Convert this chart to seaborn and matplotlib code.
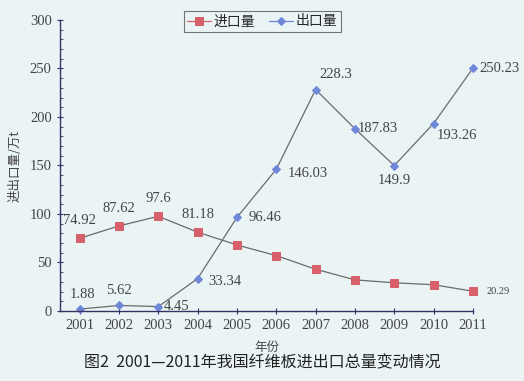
import pandas as pd
import matplotlib.pyplot as plt
import seaborn as sns
from matplotlib.ticker import MultipleLocator

# Data
years = [2001, 2002, 2003, 2004, 2005, 2006, 2007, 2008, 2009, 2010, 2011]
imports = [74.92, 87.62, 97.6, 81.18, 68, 57, 43, 32, 29, 27, 20.29]
exports = [1.88, 5.62, 4.45, 33.34, 96.46, 146.03, 228.3, 187.83, 149.9, 193.26, 250.23]
import_labels = ['74.92', '87.62', '97.6', '81.18', '', '', '', '', '', '', '20.29']
export_labels = ['1.88', '5.62', '4.45', '33.34', '96.46', '146.03', '228.3',
                 '187.83', '149.9', '193.26', '250.23']

sns.set_style('ticks')
plt.rcParams['font.family'] = ['Liberation Serif', 'Noto Sans CJK SC']

bg = '#eaf4f5'
red = '#d8606a'
blue = '#6e87d8'
line_col = '#6b6b6b'
txt = '#444444'

fig = plt.figure(figsize=(5.24, 3.81), dpi=100, facecolor=bg)
ax = fig.add_axes([0.1145, 0.184, 0.788, 0.7635])
ax.set_facecolor(bg)

df = pd.DataFrame({'年份': years, '进口量': imports, '出口量': exports})

sns.lineplot(data=df, x='年份', y='进口量', ax=ax, color=line_col, lw=0.9,
             marker='s', markersize=6, markerfacecolor=red, markeredgecolor=red,
             label='进口量', clip_on=False)
sns.lineplot(data=df, x='年份', y='出口量', ax=ax, color=line_col, lw=0.9,
             marker='D', markersize=4, markerfacecolor=blue, markeredgecolor=blue,
             label='出口量', clip_on=False)

ax.set_xlim(2000.5, 2011)
ax.set_ylim(0, 300)
ax.set_xticks(years)
ax.yaxis.set_major_locator(MultipleLocator(50))
ax.yaxis.set_minor_locator(MultipleLocator(10))
ax.tick_params(axis='both', which='major', labelsize=10.5, colors='#333366',
               labelcolor=txt, direction='inout', length=5, width=0.8)
ax.tick_params(axis='y', which='minor', direction='in', length=2.5, width=0.6,
               colors='#333366')
for s in ['top', 'right']:
    ax.spines[s].set_visible(False)
for s in ['left', 'bottom']:
    ax.spines[s].set_color('#333366')
    ax.spines[s].set_linewidth(1.0)

ax.set_xlabel('年份', fontsize=9, family=['Noto Sans CJK SC'], color=txt, labelpad=6)
ax.set_ylabel('进出口量/万t', fontsize=9, family=['Noto Sans CJK SC'], color=txt, labelpad=6)

# data labels
imp_off = [(0, 8), (0, 8), (0, 8), (0, 8), None, None, None, None, None, None, (10, 0)]
for x, y, t, off in zip(years, imports, import_labels, imp_off):
    if t:
        ha = 'left' if off[0] > 0 else 'center'
        va = 'center' if off[1] == 0 else 'bottom'
        fs = 7.5 if x == 2011 else 10.5
        ax.annotate(t, (x, y), xytext=off, textcoords='offset points',
                    ha=ha, va=va, fontsize=fs, color=txt)

exp_off = [(2, 6, 'center', 'bottom'), (0, 6, 'center', 'bottom'), (4, 0, 'left', 'center'),
           (8, -2, 'left', 'center'), (8, 0, 'left', 'center'), (8, -3, 'left', 'center'),
           (3, 6, 'left', 'bottom'), (2, 0, 'left', 'center'), (0, -6, 'center', 'top'),
           (2, -4, 'left', 'top'), (5, 0, 'left', 'center')]
for x, y, t, (dx, dy, ha, va) in zip(years, exports, export_labels, exp_off):
    ax.annotate(t, (x, y), xytext=(dx, dy), textcoords='offset points',
                ha=ha, va=va, fontsize=10.5, color=txt)

leg = ax.legend(loc='upper center', bbox_to_anchor=(0.49, 1.055), ncol=2, frameon=True,
                fancybox=False, edgecolor='#555555', handlelength=1.7,
                columnspacing=1.0, handletextpad=0.2, borderpad=0.25,
                prop={'family': ['Noto Sans CJK SC'], 'size': 10})
leg.get_frame().set_facecolor(bg)
leg.get_frame().set_linewidth(0.8)
leg.get_lines()[0].set_color(red)
leg.get_lines()[1].set_color(blue)

fig.text(0.5, 0.035, '图2  2001—2011年我国纤维板进出口总量变动情况', ha='center',
         fontsize=11.5, family=['Noto Sans CJK SC'], color='#222222')

plt.savefig('out.png', dpi=100, facecolor=bg)
